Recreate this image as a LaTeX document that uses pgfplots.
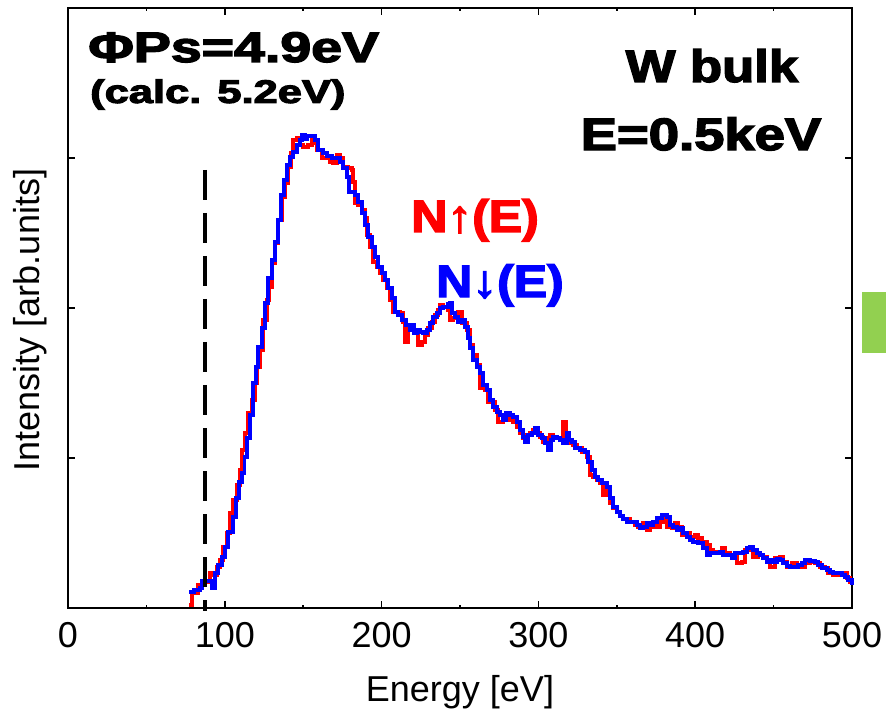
\documentclass[border=0pt]{standalone}
\usepackage{fontspec}
\setmainfont{Liberation Sans}
\newfontfamily\heavy{Liberation Sans}[BoldFeatures={FakeBold=3}]
\usepackage{pgfplots}
\pgfplotsset{compat=1.18}
\definecolor{officegreen}{RGB}{146,208,80}
\begin{document}
\begin{tikzpicture}
\path[use as bounding box] (-51pt,-82.5pt) rectangle (613.5pt,456pt);
\fill[officegreen] (595.5pt,191.25pt) rectangle (620pt,237pt);
\begin{axis}[
  at={(0pt,0pt)}, anchor=south west,
  scale only axis, width=588pt, height=450pt,
  xmin=0, xmax=500, ymin=0, ymax=4,
  xtick={0,100,...,500}, minor xtick={50,150,...,450},
  ytick={1,2,3}, yticklabels={},
  major tick length=5.5pt, minor tick length=2pt,
  tick style={black, line width=1.2pt},
  axis line style={line width=1.3pt},
  /pgf/number format/assume math mode=true,
  ticklabel style={font=\fontsize{27}{32}\selectfont},
  xticklabel style={yshift=-7pt},
  label style={font=\fontsize{27}{32}\selectfont},
  xlabel={Energy [eV]}, ylabel={Intensity [arb.units]},
  xlabel style={at={(axis description cs:0.5,-0.14)}, anchor=center},
  ylabel style={at={(axis description cs:-0.0485,0.48)}, anchor=center},
  clip=false,
]
% N up (red)
\addplot[const plot, red, line width=2.6pt] coordinates {
(77.2,0.02) (79.1,0.107) (81.0,0.10) (82.9,0.153) (87.4,0.173) (90.6,0.233) (92.5,0.22) (95.0,0.273)
(96.9,0.32) (98.9,0.407) (101.4,0.50) (103.3,0.633) (105.2,0.72) (107.8,0.82) (109.7,0.92) (111.0,1.053)
(112.9,1.167) (114.8,1.30) (117.4,1.387) (119.3,1.50) (120.5,1.607) (122.5,1.72) (124.4,1.92) (126.9,2.053)
(128.2,2.14) (130.1,2.30) (132.0,2.433) (133.9,2.587) (136.5,2.74) (138.4,2.833) (140.3,2.94) (142.2,3.033)
(143.5,3.12) (146.1,3.133) (148.0,3.087) (149.9,3.073) (153.1,3.087) (155.6,3.12) (157.5,3.10) (158.8,3.053)
(162.0,3.0) (167.1,2.973) (169.0,2.967) (171.6,3.02) (173.5,3.0) (175.4,2.94) (178.6,2.933) (181.1,2.92)
(181.8,2.84) (183.0,2.70) (185.0,2.687) (187.5,2.653) (189.4,2.60) (190.7,2.487) (192.6,2.407) (194.5,2.307)
(197.1,2.273) (199.0,2.233) (200.9,2.187) (203.5,2.133) (205.4,2.053) (207.3,1.973) (211.8,1.967) (213.7,1.907)
(214.9,1.773) (216.9,1.887) (220.0,1.853) (223.2,1.753) (225.8,1.773) (227.7,1.82) (229.6,1.867) (232.2,1.907)
(234.1,1.953) (236.0,1.987) (237.3,2.02) (239.2,2.007) (242.4,1.987) (243.6,1.92) (245.6,1.933) (248.7,1.973)
(251.3,1.90) (254.5,1.853) (256.4,1.753) (258.3,1.687) (260.9,1.62) (262.8,1.467) (266.0,1.453) (267.9,1.373)
(272.3,1.32) (274.3,1.24) (277.4,1.267) (281.9,1.253) (283.8,1.24) (286.4,1.207) (288.3,1.167) (290.2,1.133)
(292.8,1.153) (294.7,1.167) (296.6,1.187) (299.1,1.167) (301.0,1.14) (303.0,1.107) (305.5,1.133) (307.4,1.153)
(309.3,1.133) (313.8,1.12) (315.7,1.24) (317.6,1.107) (318.9,1.10) (322.1,1.087) (324.6,1.067) (327.8,1.04)
(331.0,1.007) (332.9,0.887) (334.8,0.873) (337.4,0.853) (339.3,0.833) (341.2,0.753) (343.8,0.787) (345.7,0.70)
(347.6,0.667) (350.2,0.64) (352.1,0.613) (354.0,0.593) (358.5,0.573) (361.6,0.553) (363.5,0.54) (366.7,0.567)
(369.3,0.52) (371.2,0.54) (373.1,0.567) (375.7,0.54) (377.6,0.573) (379.5,0.607) (382.0,0.54) (385.2,0.533)
(387.1,0.567) (389.1,0.54) (391.6,0.487) (394.8,0.50) (396.7,0.473) (399.9,0.487) (401.8,0.467) (404.4,0.44)
(407.6,0.42) (409.5,0.387) (411.4,0.373) (417.2,0.40) (419.0,0.367) (422.2,0.353) (426.7,0.30) (429.9,0.307)
(431.8,0.387) (435.0,0.40) (436.9,0.34) (440.1,0.353) (443.3,0.34) (445.8,0.32) (447.7,0.273) (450.9,0.333)
(454.1,0.34) (456.0,0.307) (458.6,0.273) (461.8,0.30) (465.0,0.287) (466.9,0.273) (470.1,0.30) (473.3,0.307)
(476.4,0.30) (479.6,0.273) (482.8,0.267) (484.7,0.233) (487.9,0.22) (494.3,0.233) (496.9,0.20) (498.8,0.173)
(500,0.173)
};
% N down (blue)
\addplot[const plot, blue, line width=2.6pt] coordinates {
(77.2,0.107) (80.4,0.12) (84.2,0.133) (85.5,0.18) (91.8,0.133) (93.8,0.233) (95.7,0.287) (98.2,0.34)
(100.1,0.407) (102.0,0.507) (105.2,0.607) (107.2,0.733) (109.1,0.84) (111.0,0.90) (112.6,1.007) (114.2,1.133)
(116.1,1.287) (118.0,1.50) (119.9,1.607) (121.2,1.74) (123.7,1.867) (125.6,2.033) (127.6,2.20) (130.1,2.32)
(132.0,2.44) (133.9,2.587) (135.9,2.753) (137.8,2.853) (139.7,2.953) (141.6,3.007) (143.5,3.04) (146.1,3.087)
(148.0,3.12) (149.2,3.153) (151.2,3.127) (152.4,3.147) (157.5,3.12) (159.4,3.053) (162.6,3.033) (165.2,3.013)
(168.4,3.0) (173.5,2.973) (175.4,2.933) (177.9,2.873) (179.2,2.773) (183.0,2.753) (185.0,2.707) (187.5,2.633)
(189.4,2.553) (191.3,2.473) (193.9,2.407) (195.8,2.34) (197.7,2.273) (200.3,2.233) (202.2,2.187) (204.1,2.133)
(206.6,2.067) (208.6,1.973) (210.5,1.953) (213.0,1.92) (215.5,1.887) (218.1,1.853) (219.4,1.887) (220.7,1.833)
(222.6,1.853) (224.5,1.84) (226.4,1.833) (229.0,1.853) (230.9,1.90) (232.8,1.94) (235.4,1.967) (237.3,2.0)
(239.2,2.007) (242.4,2.027) (243.6,2.033) (244.9,1.967) (246.8,1.94) (248.7,1.907) (251.3,1.92) (253.2,1.873)
(255.1,1.80) (256.4,1.733) (258.3,1.653) (260.9,1.607) (262.8,1.567) (264.7,1.487) (267.2,1.453) (269.2,1.387)
(271.1,1.34) (273.6,1.307) (275.5,1.287) (277.4,1.253) (279.4,1.30) (281.9,1.287) (283.8,1.273) (286.4,1.24)
(288.3,1.187) (290.2,1.14) (291.5,1.107) (293.4,1.153) (295.9,1.167) (297.9,1.20) (299.8,1.153) (302.3,1.133)
(304.2,1.10) (306.1,1.053) (308.1,1.12) (309.3,1.14) (311.9,1.133) (313.8,1.12) (315.7,1.10) (318.3,1.167)
(319.5,1.12) (321.5,1.107) (323.4,1.067) (326.6,1.053) (329.7,1.04) (331.7,0.973) (334.2,0.92) (336.1,0.873)
(338.0,0.853) (340.6,0.833) (343.8,0.807) (345.7,0.733) (347.6,0.673) (350.2,0.64) (352.1,0.613) (354.0,0.593)
(356.5,0.573) (362.9,0.553) (364.8,0.533) (366.7,0.54) (369.3,0.567) (371.2,0.553) (373.1,0.573) (375.7,0.60)
(378.9,0.62) (382.0,0.607) (384.0,0.553) (385.9,0.54) (388.4,0.52) (390.3,0.533) (392.2,0.50) (394.8,0.473)
(396.7,0.453) (398.6,0.44) (401.8,0.433) (405.0,0.40) (407.6,0.353) (409.5,0.367) (415.8,0.373) (417.8,0.353)
(423.5,0.333) (425.4,0.367) (430.5,0.373) (433.1,0.40) (435.0,0.407) (436.9,0.387) (439.4,0.367) (441.4,0.353)
(443.3,0.333) (445.8,0.307) (447.7,0.32) (449.7,0.307) (452.2,0.327) (454.1,0.32) (456.0,0.30) (458.6,0.28)
(460.5,0.273) (465.6,0.287) (468.1,0.30) (470.1,0.32) (473.3,0.313) (476.4,0.307) (478.4,0.287) (480.9,0.267)
(484.1,0.253) (486.0,0.24) (487.9,0.233) (493.7,0.22) (495.6,0.207) (497.5,0.187) (500,0.153)
};
% work function marker
\addplot[sharp plot, black, line width=2.4pt, dash pattern=on 22.5pt off 9.75pt] coordinates {(87.4,2.92) (87.4,-0.02)};
% annotations
\node[anchor=base west, inner sep=0pt] at (axis cs:12.8,3.64) {\scalebox{1.3}[1]{\fontsize{32}{36}\selectfont\heavy\bfseries ΦPs=4.9eV}};
\node[anchor=base west, inner sep=0pt] at (axis cs:14.0,3.367) {\scalebox{1.33}[1]{\fontsize{24.5}{28}\selectfont\heavy\bfseries (calc. 5.2eV)}};
\node[anchor=base, inner sep=0pt] at (axis cs:410.7,3.507) {\scalebox{1.16}[1]{\fontsize{34}{38}\selectfont\heavy\bfseries W bulk}};
\node[anchor=base, inner sep=0pt] at (axis cs:403.7,3.053) {\scalebox{1.2}[1]{\fontsize{34}{38}\selectfont\heavy\bfseries E=0.5keV}};
\node[anchor=base, inner sep=0pt, text=red] at (axis cs:259.6,2.507) {\scalebox{1.1}[1]{\fontsize{34}{38}\selectfont\heavy\bfseries N↑(E)}};
\node[anchor=base, inner sep=0pt, text=blue] at (axis cs:275.5,2.073) {\scalebox{1.1}[1]{\fontsize{34}{38}\selectfont\heavy\bfseries N↓(E)}};
\end{axis}
\end{tikzpicture}
\end{document}
